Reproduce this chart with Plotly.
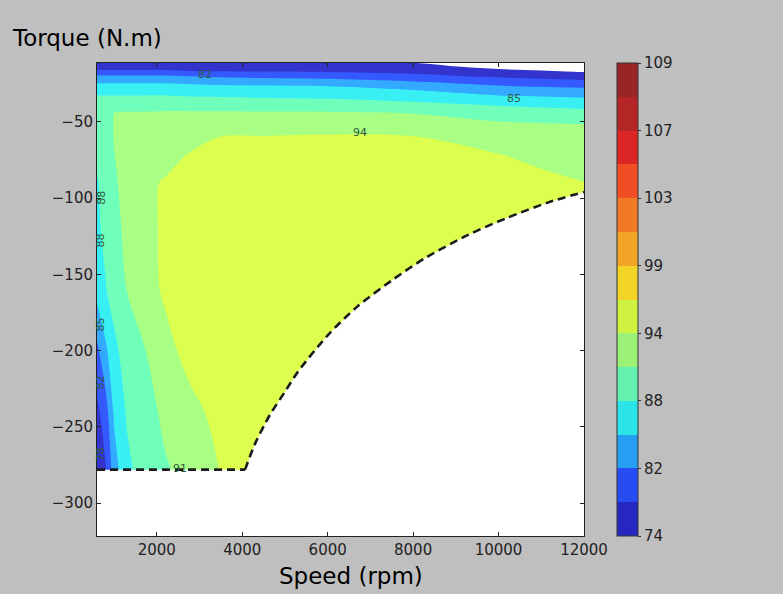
import plotly.graph_objects as go

# ---------------- data ----------------
speeds = [600, 800, 1000, 1300, 1700, 2200, 2800, 3500, 4500, 6000, 8000, 10000, 11000, 12000]
torques = [-11, -14, -17, -20, -24, -28, -33, -39, -45, -52, -60, -72, -90, -120,
           -160, -200, -240, -280, -330]

eff_m11 = [74.3, 74.3, 74.3, 74.3, 74.3, 74.3, 74.3, 74.3, 74.3, 74.3, 73.8, 70.7, 70.0, 69.1]
eff_m14 = [76.3, 76.3, 76.3, 76.3, 76.3, 76.3, 76.2, 76.2, 76.1, 76.0, 75.4, 72.9, 72.2, 71.4]
eff_m17 = [78.7, 78.7, 78.7, 78.7, 78.7, 78.7, 78.2, 78.1, 77.9, 77.7, 77.0, 75.1, 74.4, 73.7]
eff_m20 = [82.3, 82.3, 82.3, 82.3, 82.3, 82.3, 81.8, 81.2, 80.7, 80.2, 78.9, 77.3, 76.6, 76.0]
eff_m24 = [84.7, 84.7, 84.7, 84.7, 84.7, 84.7, 84.4, 84.1, 83.9, 83.5, 82.3, 80.4, 79.6, 79.1]
eff_m28 = [86.2, 86.2, 86.2, 86.2, 86.2, 86.2, 86.1, 85.9, 85.8, 85.7, 84.5, 82.9, 82.5, 82.2]
eff_m33 = [88.1, 88.1, 88.1, 88.1, 88.1, 88.1, 87.8, 87.7, 87.5, 87.3, 86.5, 85.1, 84.8, 84.5]
eff_m39 = [88.8, 90.0, 90.4, 90.4, 90.4, 90.4, 90.1, 89.9, 89.7, 89.5, 88.8, 87.8, 87.4, 87.1]
eff_m45 = [88.8, 90.0, 91.1, 91.2, 91.2, 91.3, 91.4, 91.5, 91.5, 91.5, 91.1, 89.9, 89.5, 89.2]
eff_m52 = [88.8, 90.0, 91.1, 91.6, 91.6, 91.8, 92.2, 92.6, 92.8, 93.1, 92.5, 91.5, 91.3, 91.1]
eff_m60 = [88.8, 90.0, 91.1, 92.0, 92.1, 92.3, 93.1, 94.05, 94.1, 94.2, 94.1, 92.6, 92.1, 91.7]
eff_m72 = [88.5, 89.6, 90.95, 92.0, 92.7, 93.1, 94.2, 94.6, 94.7, 94.8, 94.7, 94.1, 93.3, 92.6]
eff_m90 = [87.8, 88.9, 90.6, 92.0, 93.4, 94.2, 95.1, 95.5, 95.5, 95.5, 95.5, 95.0, 94.6, 94.05]
eff_m120 = [87.5, 88.7, 90.2, 91.6, 93.3, 94.3, 95.3, 95.5, 95.5, 95.5, 95.5, 95.5, 95.5, 95.5]
eff_m160 = [86.0, 87.8, 89.3, 91.05, 93.0, 94.3, 95.5, 95.5, 95.5, 95.5, 95.5, 95.5, 95.5, 95.5]
eff_m200 = [81.0, 84.4, 87.2, 89.5, 90.8, 93.3, 94.7, 95.5, 95.5, 95.5, 95.5, 95.5, 95.5, 95.5]
eff_m240 = [77.0, 80.2, 85.5, 88.3, 89.9, 91.6, 93.4, 94.6, 95.5, 95.5, 95.5, 95.5, 95.5, 95.5]
eff_m280 = [76.2, 77.5, 83.5, 87.3, 89.2, 90.7, 91.9, 94.1, 95.5, 95.5, 95.5, 95.5, 95.5, 95.5]
eff_m330 = [74.0, 76.0, 81.0, 85.5, 88.2, 90.0, 91.5, 93.8, 95.5, 95.5, 95.5, 95.5, 95.5, 95.5]

efficiency = [eff_m11, eff_m14, eff_m17, eff_m20, eff_m24, eff_m28, eff_m33, eff_m39,
              eff_m45, eff_m52, eff_m60, eff_m72, eff_m90, eff_m120, eff_m160,
              eff_m200, eff_m240, eff_m280, eff_m330]

# torque limit (dashed line)
limit_speed = [600, 4066, 4300, 4650, 5000, 5300, 6000, 6700, 7500, 8300, 9300, 10200, 11150, 12000]
limit_torque = [-278, -278, -261, -242, -227, -214, -190, -171, -154, -139, -124, -113, -103, -96]

# contour levels (non-uniform); colour bar labels every other level
levels = [74, 78, 82, 85, 88, 91, 94, 96.5, 99, 101, 103, 105, 107, 108, 109]
cbar_labels = ["74", "82", "88", "94", "99", "103", "107", "109"]

x_ticks = [2000, 4000, 6000, 8000, 10000, 12000]
y_ticks = [-50, -100, -150, -200, -250, -300]
x_range = [600, 12000]
y_range = [-321.5, -11.5]

# contour labels (text, speed, torque, rotation)
clabels = [("94", 6765, -57, 0), ("85", 10360, -35, 0), ("82", 3130, -19, 0),
           ("91", 2540, -277, 0), ("88", 690, -100, -90), ("88", 690, -128, -90),
           ("85", 690, -183, -90), ("82", 690, -221, -90), ("78", 690, -268, -90)]


# ---------------- colours (matplotlib "jet" with alpha) ----------------
def _interp(v, pts):
    for (x0, y0), (x1, y1) in zip(pts[:-1], pts[1:]):
        if x0 <= v <= x1:
            return y0 if x1 == x0 else y0 + (y1 - y0) * (v - x0) / (x1 - x0)
    return pts[-1][1]


def jet(v):
    r = _interp(v, [(0, 0), (0.35, 0), (0.66, 1), (0.89, 1), (1, 0.5)])
    g = _interp(v, [(0, 0), (0.125, 0), (0.375, 1), (0.64, 1), (0.91, 0), (1, 0)])
    b = _interp(v, [(0, 0.5), (0.11, 1), (0.34, 1), (0.65, 0), (1, 0)])
    return r, g, b


def blend(rgb, bg, a=0.8):
    return "rgb(%d,%d,%d)" % tuple(round(255 * (a * c + (1 - a) * bg)) for c in rgb)


def level_index(v):
    # position of a value on the (non-uniform) level ladder: level i -> i
    if v < levels[0]:
        return (v - levels[0]) / (levels[1] - levels[0])
    for i in range(len(levels) - 1):
        if v <= levels[i + 1]:
            return i + (v - levels[i]) / (levels[i + 1] - levels[i])
    return len(levels) - 1 + (v - levels[-1]) / (levels[-1] - levels[-2])


n_bands = len(levels) - 1
vmin, vmax = levels[0], levels[-1]
band_rgb = [jet(((levels[k] + levels[k + 1]) / 2 - vmin) / (vmax - vmin)) for k in range(n_bands)]

# contour fill colourscale: plotly samples band k at (k+1)/(n_bands+1); 0 -> below range
nstop = n_bands + 1
fill_scale = [[0.0, "white"]]
for k in range(n_bands):
    fill_scale.append([(k + 1) / nstop, blend(band_rgb[k], 1.0)])
fill_scale.append([1.0, blend(band_rgb[-1], 1.0)])

# discrete colourbar scale (uniform spacing of bands)
cb_scale = []
for k in range(n_bands):
    c = blend(band_rgb[k], 0.75)
    cb_scale.append([k / n_bands, c])
    cb_scale.append([(k + 1) / n_bands, c])

z_index = [[level_index(v) for v in row] for row in efficiency]

fig = go.Figure()

fig.add_trace(go.Contour(
    x=speeds, y=torques, z=z_index,
    autocontour=False,
    contours=dict(start=0, end=n_bands, size=1, coloring="fill", showlines=False),
    line=dict(width=0, smoothing=1.0),
    colorscale=fill_scale, showscale=False, hoverinfo="skip",
))

# blank region beyond the torque limit
floor = y_range[0] - 10
fig.add_trace(go.Scatter(
    x=limit_speed + [x_range[1] + 100, x_range[1] + 100, x_range[0] - 100, x_range[0] - 100],
    y=limit_torque + [limit_torque[-1], floor, floor, limit_torque[0]],
    fill="toself", fillcolor="white", mode="lines",
    line=dict(width=0, color="white"), hoverinfo="skip", showlegend=False,
))

dash_style = dict(color="#1c1c1c", width=2.6, dash="8px,5px")
# flat part of the limit
fig.add_trace(go.Scatter(
    x=limit_speed[:2], y=limit_torque[:2], mode="lines", line=dash_style,
    hoverinfo="skip", showlegend=False,
))
# constant-power part of the limit
fig.add_trace(go.Scatter(
    x=limit_speed[1:], y=limit_torque[1:], mode="lines",
    line=dict(shape="spline", smoothing=0.8, **dash_style),
    hoverinfo="skip", showlegend=False,
))

# colour bar
fig.add_trace(go.Scatter(
    x=[None], y=[None], mode="markers", hoverinfo="skip", showlegend=False,
    marker=dict(color=[0], cmin=0, cmax=n_bands,
                colorscale=cb_scale, showscale=True,
                colorbar=dict(x=(617 - 97) / 487, xanchor="left", xpad=0,
                              y=0.5, yanchor="middle", ypad=0,
                              len=1, lenmode="fraction",
                              thickness=21, thicknessmode="pixels",
                              outlinewidth=1, outlinecolor="#333333",
                              tickvals=list(range(0, n_bands + 1, 2)), ticktext=cbar_labels,
                              ticks="outside", ticklen=3, tickcolor="#333333",
                              tickfont=dict(size=15, color="#222222"))),
))

for txt, sx, ty, rot in clabels:
    fig.add_annotation(x=sx, y=ty, text=txt, showarrow=False, textangle=rot,
                       font=dict(size=11, color="#2d5a3a"))

fig.add_annotation(xref="paper", yref="paper", x=(10 - 97) / 487, y=(536 - 38) / 473,
                   xanchor="left", yanchor="middle", text="Torque (N.m)", showarrow=False,
                   font=dict(size=23, color="black"))
fig.add_annotation(xref="paper", yref="paper", x=(351 - 97) / 487, y=(536 - 576) / 473,
                   xanchor="center", yanchor="middle", text="Speed (rpm)", showarrow=False,
                   font=dict(size=23, color="black"))

axis_common = dict(showgrid=False, zeroline=False, showline=True, linecolor="#222222",
                   linewidth=1, mirror="allticks", ticks="inside", ticklen=4,
                   tickcolor="#222222", tickfont=dict(size=15, color="#222222"))

fig.update_xaxes(range=x_range, tickvals=x_ticks, ticktext=[str(v) for v in x_ticks],
                 **axis_common)
fig.update_yaxes(range=y_range, tickvals=y_ticks, **axis_common)

fig.update_layout(
    width=783, height=594, autosize=False,
    margin=dict(l=97, r=199, t=63, b=58),
    paper_bgcolor="#bfbfbf", plot_bgcolor="white",
    font=dict(family="DejaVu Sans"),
    showlegend=False,
)

fig.write_html("out.html")
